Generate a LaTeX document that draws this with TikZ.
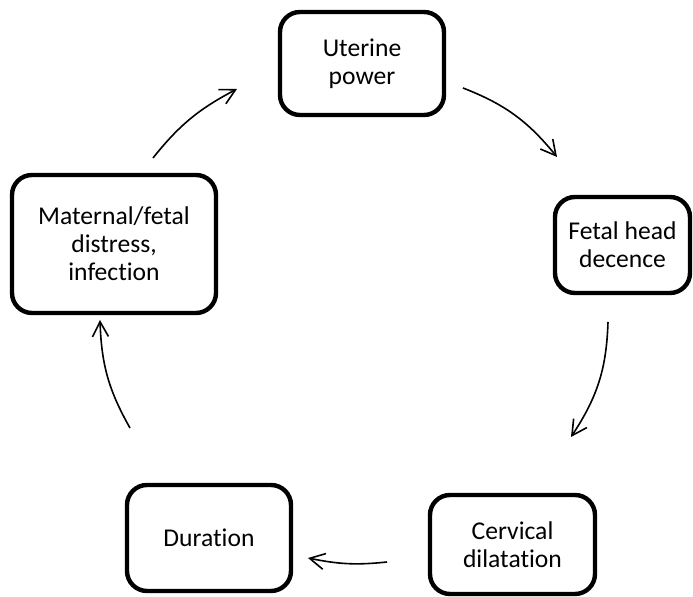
\documentclass[tikz,border=0pt]{standalone}
\usepackage{fontspec}
\setmainfont{Carlito}[Ligatures=NoCommon]
\usepackage{tikz}
\usetikzlibrary{arrows.meta,bending}
\tikzset{
  node-box/.style={draw=black,line width=2.2pt,rounded corners=10pt,
    align=center,inner sep=0pt,font=\fontsize{12.8}{14}\selectfont},
  arrow/.style={-{Straight Barb[length=7.5pt,width=8pt]},line width=0.8pt,draw=black},
}

\begin{document}
\begin{tikzpicture}[x=0.5pt,y=-0.5pt]
  \useasboundingbox (0,0) rectangle (693,597);
  \node[node-box,minimum width=82pt,minimum height=51.5pt] at (362,63.5) (uterine) {Uterine\\power};
  \node[node-box,minimum width=67.5pt,minimum height=48pt] at (622.5,245) (fetal) {Fetal head\\decence};
  \node[node-box,minimum width=82.5pt,minimum height=49.5pt] at (512.5,544.5) (cervical) {Cervical\\dilatation};
  \node[node-box,minimum width=82pt,minimum height=53pt] at (209,538) (duration) {Duration};
  \node[node-box,minimum width=102pt,minimum height=69pt] at (114,244) (maternal) {Maternal/fetal\\distress,\\infection};
  % free ends of the cycle arrows
  \coordinate (uterine-out) at (463,88);
  \coordinate (fetal-in) at (557,157);
  \coordinate (fetal-out) at (608,322);
  \coordinate (cervical-in) at (571,437);
  \coordinate (cervical-out) at (387,562);
  \coordinate (duration-in) at (308,558);
  \coordinate (duration-out) at (130,428);
  \coordinate (maternal-in) at (100,320);
  \coordinate (maternal-out) at (153,158);
  \coordinate (uterine-in) at (237,89);
  \foreach \from/\to/\b in {uterine-out/fetal-in/15, fetal-out/cervical-in/16,
      cervical-out/duration-in/9, duration-out/maternal-in/14, maternal-out/uterine-in/12} {
    \draw[arrow] (\from) to[bend left=\b] (\to);
  }
\end{tikzpicture}
\end{document}
